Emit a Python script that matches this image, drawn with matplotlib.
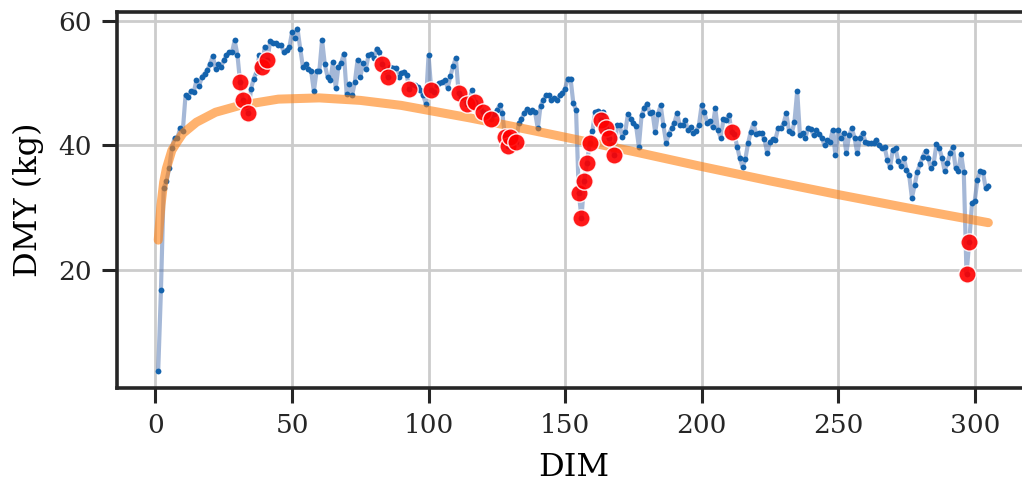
import numpy as np
import matplotlib
matplotlib.use("Agg")
import matplotlib.pyplot as plt

# daily milk yield, DIM 1..305
dim = np.arange(1, 306)
dmy = [
    3.9, 16.8, 33.2, 34.2, 36.3, 39.6, 41.2, 41.1, 42.7, 42.3,          # 1-10
    48.0, 47.7, 48.7, 48.5, 50.4, 49.5, 51.0, 51.5, 52.0, 53.1,         # 11-20
    54.3, 52.3, 53.0, 52.6, 53.6, 54.4, 54.9, 54.9, 56.8, 54.5,         # 21-30
    50.1, 47.2, 46.2, 45.2, 49.1, 50.7, 51.8, 54.4, 52.6, 55.8,         # 31-40
    53.7, 56.7, 56.4, 56.4, 56.0, 56.0, 55.0, 55.2, 55.7, 58.1,         # 41-50
    57.2, 58.7, 55.5, 52.5, 53.0, 52.3, 51.9, 48.7, 51.9, 51.9,         # 51-60
    56.9, 53.0, 51.0, 50.4, 53.3, 49.2, 52.6, 53.2, 54.7, 48.3,         # 61-70
    49.9, 48.0, 50.1, 53.7, 50.9, 53.2, 52.2, 54.4, 54.6, 54.0,         # 71-80
    55.5, 54.9, 53.1, 52.0, 51.0, 52.5, 52.4, 52.4, 51.0, 51.6,         # 81-90
    51.8, 51.2, 49.1, 49.9, 49.6, 49.3, 48.8, 48.0, 46.7, 54.4,         # 91-100
    48.8, 48.6, 49.6, 50.0, 50.1, 50.4, 49.2, 51.1, 52.7, 54.0,         # 101-110
    48.4, 47.8, 47.4, 46.7, 47.6, 48.8, 46.9, 46.3, 46.0, 45.3,         # 111-120
    45.2, 44.8, 44.2, 45.0, 45.6, 46.4, 45.2, 41.3, 39.9, 41.4,         # 121-130
    40.9, 40.5, 43.5, 44.2, 45.1, 45.8, 45.3, 45.6, 45.3, 42.7,         # 131-140
    46.3, 47.2, 48.0, 48.0, 47.2, 47.6, 47.3, 48.0, 48.4, 49.1,         # 141-150
    50.7, 50.7, 46.8, 45.7, 32.4, 28.4, 34.3, 37.1, 40.3, 42.3,         # 151-160
    45.3, 45.5, 44.0, 45.4, 42.8, 41.1, 40.0, 38.4, 43.2, 43.2,         # 161-170
    41.3, 42.1, 45.0, 44.2, 43.6, 43.1, 39.8, 44.8, 45.9, 46.7,         # 171-180
    45.1, 45.3, 42.1, 45.0, 46.4, 43.2, 40.4, 41.8, 42.7, 43.6,         # 181-190
    45.1, 43.2, 43.2, 44.0, 42.4, 42.9, 42.0, 42.3, 43.2, 46.4,         # 191-200
    45.3, 43.6, 43.9, 42.9, 45.9, 42.4, 41.2, 44.2, 44.1, 44.9,         # 201-210
    42.1, 41.8, 39.8, 37.9, 36.5, 37.8, 40.3, 42.2, 43.5, 41.8,         # 211-220
    41.9, 41.9, 41.0, 38.8, 40.5, 41.0, 40.9, 42.7, 42.7, 43.5,         # 221-230
    45.1, 42.3, 41.9, 43.8, 48.7, 41.6, 41.9, 41.2, 42.8, 42.6,         # 231-240
    41.6, 42.4, 41.8, 41.2, 40.0, 40.8, 40.6, 42.4, 38.4, 42.5,         # 241-250
    41.1, 41.9, 38.8, 41.6, 42.7, 41.2, 38.7, 41.2, 41.9, 40.6,         # 251-260
    40.4, 40.3, 40.4, 40.9, 40.0, 39.5, 39.7, 37.7, 36.5, 39.3,         # 261-270
    39.5, 37.5, 36.7, 38.0, 36.1, 35.2, 31.6, 33.6, 35.8, 37.0,         # 271-280
    38.2, 39.1, 38.0, 36.3, 37.2, 40.2, 39.6, 38.0, 35.9, 37.2,         # 281-290
    38.7, 39.7, 36.4, 35.9, 38.6, 35.7, 19.4, 24.5, 30.7, 31.1,         # 291-300
    34.4, 35.9, 35.7, 33.2, 33.5,                                       # 301-305
]

# days flagged as outliers (red)
outlier_days = [31, 32, 34, 39, 41, 83, 85, 93, 101, 111, 114, 117, 120, 123,
                128, 129, 130, 132, 155, 156, 157, 158, 159, 163, 165, 166, 168,
                211, 297, 298]

# fitted lactation curve
fit_days = [1, 2, 3, 4, 6, 8, 10, 15, 22, 31, 45, 60, 75, 90, 100, 115, 130,
            150, 175, 200, 225, 250, 275, 305]
fit_vals = [24.8, 30.4, 34.1, 36.3, 39.2, 40.6, 41.9, 43.7, 45.3, 46.4, 47.4,
            47.6, 47.2, 46.4, 45.6, 44.4, 43.1, 41.3, 39.0, 36.6, 34.3, 32.1,
            30.0, 27.6]

plt.rcParams['font.family'] = ['DejaVu Serif']
plt.rcParams['axes.edgecolor'] = '#262626'
plt.rcParams['xtick.color'] = '#262626'
plt.rcParams['ytick.color'] = '#262626'

fig = plt.figure(figsize=(10.22, 4.83), dpi=100)
ax = fig.add_axes([0.1142, 0.1973, 0.8935, 0.777])

dmy = np.array(dmy)
out_idx = np.array(outlier_days) - 1

ax.plot(dim, dmy, '-', color='#4c72b0', alpha=0.5, lw=3, zorder=2)
ax.plot(dim, dmy, 'o', color='#1463ad', ms=4.2, mew=0, zorder=3)
ax.plot(fit_days, fit_vals, '-', color='#ff7f0e', alpha=0.6, lw=6.5,
        solid_capstyle='round', zorder=4)
ax.scatter(dim[out_idx], dmy[out_idx], s=155, color='red', edgecolor='white',
           linewidth=1.0, alpha=0.9, zorder=5)

ax.set_xlim(-14.2, 320.2)
ax.set_ylim(1.15, 61.3)
ax.set_xticks([0, 50, 100, 150, 200, 250, 300])
ax.set_yticks([20, 40, 60])
ax.grid(True, color='#cccccc', lw=2)
ax.set_axisbelow(True)
for s in ax.spines.values():
    s.set_linewidth(2.6)
ax.tick_params(direction='out', length=11, width=2.2, labelsize=19, pad=7)
ax.set_xlabel('DIM', fontsize=23, labelpad=10)
ax.set_ylabel('DMY (kg)', fontsize=23, labelpad=10)

fig.savefig('out.png', dpi=100)
